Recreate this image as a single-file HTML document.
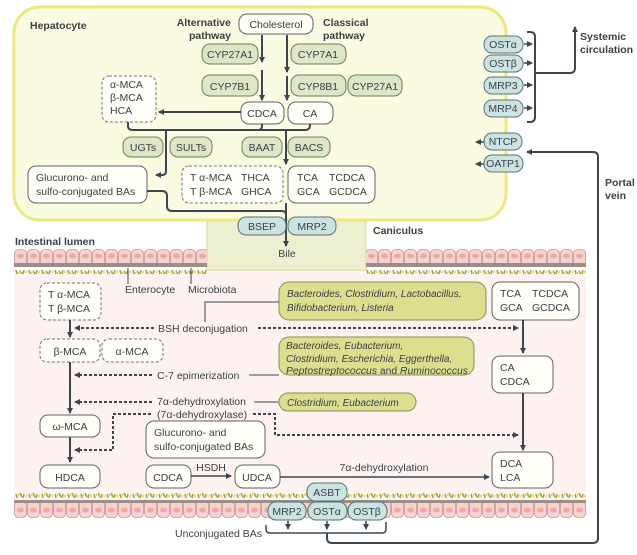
<!DOCTYPE html>
<html><head><meta charset="utf-8"><style>
html,body{margin:0;padding:0;background:#fff;}
svg{display:block;font-family:"Liberation Sans",sans-serif;}
text{fill:#3b4047;font-size:10.5px;}
.b{font-weight:bold;}
.i{font-style:italic;font-size:10px;}
.ln{stroke:#3d4650;stroke-width:2;fill:none;}
.dl{stroke:#3d4650;stroke-width:2;fill:none;stroke-dasharray:3,2;}
.en{fill:#dde6c6;stroke:#6e7d5c;stroke-width:1;}
.bac{fill:#dcdf8e;stroke:#8a8c55;stroke-width:1;}
.tr{fill:#cbe4e1;stroke:#5a7272;stroke-width:1;}
.wb{fill:#fffef7;stroke:#5e636a;stroke-width:1;}
.db{fill:#fffef7;stroke:#6e737a;stroke-width:1;stroke-dasharray:3,2;}
</style></head><body>
<svg width="637" height="555" viewBox="0 0 637 555" xmlns="http://www.w3.org/2000/svg">
<defs>
<marker id="a" markerWidth="6" markerHeight="6" refX="5" refY="3" orient="auto" markerUnits="userSpaceOnUse"><path d="M0,0 L6,3 L0,6 Z" fill="#3d4650"/></marker>
<pattern id="cell" x="14" y="249" width="13" height="28" patternUnits="userSpaceOnUse">
<rect x="0.5" y="0.5" width="12" height="17" rx="4" fill="#f7d3cf" stroke="#c9958f" stroke-width="0.8"/>
<ellipse cx="6.5" cy="7" rx="3.5" ry="2.5" fill="#f0a8a2"/>
<rect x="0" y="14" width="13" height="4" fill="#9a8f88"/>
<path d="M2,21 l1,4 M6,22 l2,3 M10,21 l-1,4" stroke="#9aa83a" stroke-width="1.5"/>
<circle cx="4.5" cy="24" r="0.9" fill="#d8c43a"/><circle cx="12" cy="23" r="0.9" fill="#d8c43a"/>
</pattern>
<pattern id="cell2" x="14" y="492" width="13" height="28" patternUnits="userSpaceOnUse">
<path d="M2,2 l1,4 M6,1 l2,4 M10,2 l-1,4" stroke="#9aa83a" stroke-width="1.5"/>
<circle cx="4.5" cy="3" r="0.9" fill="#d8c43a"/><circle cx="12" cy="4" r="0.9" fill="#d8c43a"/>
<rect x="0.5" y="8.5" width="12" height="17" rx="4" fill="#f7d3cf" stroke="#c9958f" stroke-width="0.8"/>
<rect x="0" y="8" width="13" height="3" fill="#9a8f88"/>
<ellipse cx="6.5" cy="18" rx="3.5" ry="2.5" fill="#f0a8a2"/>
</pattern>
</defs>

<rect x="14" y="270" width="572" height="230" fill="#fdf2ef"/>
<rect x="207" y="210" width="159" height="60" fill="#edf0d0" stroke="#d6dc8a" stroke-width="1"/>
<rect x="14" y="7" width="492" height="213" rx="26" fill="#fbfbe1" stroke="#ece97a" stroke-width="3"/>
<rect x="14" y="249" width="193" height="28" fill="url(#cell)"/>
<rect x="366" y="249" width="220" height="28" fill="url(#cell)"/>
<rect x="14" y="492" width="572" height="28" fill="url(#cell2)"/>

<text x="30" y="29" class="b">Hepatocyte</text>
<text x="231" y="26" class="b" text-anchor="end">Alternative</text>
<text x="231" y="39" class="b" text-anchor="end">pathway</text>
<text x="323" y="26" class="b">Classical</text>
<text x="323" y="39" class="b">pathway</text>
<text x="15" y="245" class="b">Intestinal lumen</text>
<text x="373" y="234" class="b">Caniculus</text>
<text x="580" y="40" class="b">Systemic</text>
<text x="580" y="53" class="b">circulation</text>
<text x="605" y="186" class="b">Portal</text>
<text x="605" y="199" class="b">vein</text>

<rect x="239" y="14" width="74" height="20" rx="8" class="wb"/><text x="276" y="28" text-anchor="middle">Cholesterol</text>
<rect x="202" y="44" width="56" height="20" rx="8" class="en"/><text x="230" y="58" text-anchor="middle">CYP27A1</text>
<rect x="291" y="44" width="55" height="20" rx="8" class="en"/><text x="318" y="58" text-anchor="middle">CYP7A1</text>
<rect x="202" y="75" width="56" height="21" rx="8" class="en"/><text x="230" y="90" text-anchor="middle">CYP7B1</text>
<rect x="291" y="75" width="55" height="21" rx="8" class="en"/><text x="318" y="90" text-anchor="middle">CYP8B1</text>
<rect x="348" y="75" width="54" height="21" rx="8" class="en"/><text x="375" y="90" text-anchor="middle">CYP27A1</text>
<path d="M262,35 V62" class="ln" marker-end="url(#a)"/>
<path d="M262,70 V100" class="ln" marker-end="url(#a)"/>
<path d="M287,35 V72" class="ln" marker-end="url(#a)"/>
<path d="M287,76 V100" class="ln" marker-end="url(#a)"/>
<rect x="241" y="102" width="43" height="22" rx="8" class="wb"/><text x="262" y="117" text-anchor="middle">CDCA</text>
<rect x="288" y="102" width="45" height="22" rx="8" class="wb"/><text x="310" y="117" text-anchor="middle">CA</text>
<rect x="102" y="76" width="54" height="46" rx="7" class="db"/>
<text x="110" y="88">α-MCA</text><text x="110" y="101">β-MCA</text><text x="110" y="114">HCA</text>
<path d="M241,112 H159" class="ln" marker-end="url(#a)"/>
<path d="M128,122 V126 Q128,130 133,130 H305 Q310,130 310,125 V124" class="ln"/>
<path d="M262,124 V126 Q262,130 258,130" class="ln"/>
<path d="M166,130 V171 Q166,175 162,175 H156" class="ln" marker-end="url(#a)"/>
<path d="M286,130 V164" class="ln" marker-end="url(#a)"/>
<rect x="123" y="137" width="40" height="20" rx="8" class="en"/><text x="143" y="151" text-anchor="middle">UGTs</text>
<rect x="170" y="137" width="42" height="20" rx="8" class="en"/><text x="191" y="151" text-anchor="middle">SULTs</text>
<rect x="242" y="137" width="40" height="20" rx="8" class="en"/><text x="262" y="151" text-anchor="middle">BAAT</text>
<rect x="288" y="137" width="42" height="20" rx="8" class="en"/><text x="309" y="151" text-anchor="middle">BACS</text>
<rect x="28" y="166" width="119" height="37" rx="8" class="wb"/>
<text x="36" y="181">Glucurono- and</text><text x="36" y="195">sulfo-conjugated BAs</text>
<rect x="182" y="166" width="101" height="37" rx="7" class="db"/>
<text x="190" y="181">T α-MCA</text><text x="241" y="181">THCA</text>
<text x="190" y="195">T β-MCA</text><text x="241" y="195">GHCA</text>
<rect x="288" y="166" width="87" height="37" rx="8" class="wb"/>
<text x="297" y="181">TCA</text><text x="329" y="181">TCDCA</text>
<text x="297" y="195">GCA</text><text x="329" y="195">GCDCA</text>
<path d="M147,191 H162 Q167,191 167,196 V206 Q167,211 172,211 H282 Q286,211 286,215" class="ln"/>
<path d="M286,203 V246" class="ln" marker-end="url(#a)"/>
<rect x="238" y="217" width="48" height="18" rx="8" class="tr"/><text x="262" y="230" text-anchor="middle">BSEP</text>
<rect x="288" y="217" width="48" height="18" rx="8" class="tr"/><text x="312" y="230" text-anchor="middle">MRP2</text>
<text x="287" y="257" text-anchor="middle">Bile</text>

<rect x="484" y="36" width="39" height="17" rx="8" class="tr"/><text x="503" y="48" text-anchor="middle">OSTα</text>
<rect x="484" y="55" width="39" height="17" rx="8" class="tr"/><text x="503" y="67" text-anchor="middle">OSTβ</text>
<rect x="484" y="77" width="39" height="17" rx="8" class="tr"/><text x="503" y="89" text-anchor="middle">MRP3</text>
<rect x="484" y="100" width="39" height="17" rx="8" class="tr"/><text x="503" y="112" text-anchor="middle">MRP4</text>
<g stroke="#3d4650" stroke-width="1.5" fill="none">
<path d="M524,44 H532" marker-end="url(#a)"/><path d="M524,63 H532" marker-end="url(#a)"/>
<path d="M524,85 H532" marker-end="url(#a)"/><path d="M524,108 H532" marker-end="url(#a)"/>
</g>
<path d="M527,32 H530 Q535,32 535,37 V117 Q535,122 530,122 H527" class="ln"/>
<path d="M535,73 H570 Q575,73 575,68 V27" class="ln" marker-end="url(#a)"/>
<rect x="484" y="133" width="38" height="17" rx="8" class="tr"/><text x="503" y="145" text-anchor="middle">NTCP</text>
<rect x="484" y="155" width="39" height="17" rx="8" class="tr"/><text x="503" y="167" text-anchor="middle">OATP1</text>
<path d="M484,142 H476" stroke="#3d4650" stroke-width="1.5" marker-end="url(#a)"/>
<path d="M484,164 H476" stroke="#3d4650" stroke-width="1.5" marker-end="url(#a)"/>
<path d="M327,533 V538 Q327,543 332,543 H593 Q598,543 598,538 V157 Q598,152 593,152 H527" class="ln" marker-end="url(#a)"/>

<rect x="40" y="283" width="61" height="37" rx="7" class="db"/>
<text x="48" y="298">T α-MCA</text><text x="48" y="312">T β-MCA</text>
<path d="M128,268 V284 M191,268 V284" stroke="#3d4650" stroke-width="1"/>
<text x="125" y="293">Enterocyte</text><text x="188" y="293">Microbiota</text>
<rect x="279" y="282" width="207" height="38" rx="10" class="bac"/>
<text x="287" y="297" class="i">Bacteroides, Clostridium, Lactobacillus,</text>
<text x="287" y="311" class="i">Bifidobacterium, Listeria</text>
<path d="M205,322 V302 H279" stroke="#3d4650" stroke-width="1" fill="none"/>
<rect x="492" y="282" width="87" height="38" rx="8" class="wb"/>
<text x="500" y="297">TCA</text><text x="532" y="297">TCDCA</text>
<text x="500" y="311">GCA</text><text x="532" y="311">GCDCA</text>
<path d="M154,328 H75" class="dl" marker-end="url(#a)"/>
<text x="158" y="332">BSH deconjugation</text>
<path d="M258,328 H518" class="dl" marker-end="url(#a)"/>
<path d="M70,320 V337" class="ln" marker-end="url(#a)"/>
<path d="M523,320 V353" class="ln" marker-end="url(#a)"/>
<rect x="40" y="339" width="60" height="23" rx="7" class="db"/><text x="70" y="355" text-anchor="middle">β-MCA</text>
<rect x="102" y="339" width="61" height="23" rx="7" class="db"/><text x="132" y="355" text-anchor="middle">α-MCA</text>
<rect x="279" y="337" width="195" height="38" rx="10" class="bac"/>
<text x="286" y="349" class="i">Bacteroides, Eubacterium,</text>
<text x="286" y="362" class="i">Clostridium, Escherichia, Eggerthella,</text>
<text x="286" y="374" class="i" textLength="182" lengthAdjust="spacingAndGlyphs">Peptostreptococcus <tspan font-style="normal">and</tspan> Ruminococcus</text>
<rect x="492" y="356" width="61" height="37" rx="8" class="wb"/>
<text x="500" y="371">CA</text><text x="500" y="385">CDCA</text>
<path d="M152,375 H75" class="dl" marker-end="url(#a)"/>
<text x="157" y="379">C-7 epimerization</text>
<path d="M249,375 H279" stroke="#3d4650" stroke-width="1"/>
<path d="M70,362 V413" class="ln" marker-end="url(#a)"/>
<path d="M152,402 H75" class="dl" marker-end="url(#a)"/>
<text x="157" y="405">7α-dehydroxylation</text>
<path d="M254,402 H279" stroke="#3d4650" stroke-width="1"/>
<rect x="279" y="393" width="137" height="18" rx="9" class="bac"/>
<text x="287" y="406" class="i">Clostridium, Eubacterium</text>
<text x="157" y="418">(7α-dehydroxylase)</text>
<path d="M151,414 H113 V450 H75" class="dl" marker-end="url(#a)"/>
<path d="M253,414 H275 V435 H518" class="dl" marker-end="url(#a)"/>
<path d="M523,393 V450" class="ln" marker-end="url(#a)"/>
<rect x="40" y="415" width="60" height="22" rx="8" class="wb"/><text x="70" y="430" text-anchor="middle">ω-MCA</text>
<path d="M70,437 V462" class="ln" marker-end="url(#a)"/>
<rect x="146" y="421" width="119" height="37" rx="8" class="wb"/>
<text x="154" y="436">Glucurono- and</text><text x="154" y="450">sulfo-conjugated BAs</text>
<rect x="40" y="465" width="60" height="23" rx="8" class="wb"/><text x="70" y="481" text-anchor="middle">HDCA</text>
<rect x="146" y="465" width="45" height="23" rx="8" class="wb"/><text x="168" y="481" text-anchor="middle">CDCA</text>
<path d="M191,476 H231" stroke="#3d4650" stroke-width="1.5" marker-end="url(#a)"/>
<text x="211" y="471" text-anchor="middle">HSDH</text>
<rect x="235" y="465" width="45" height="23" rx="8" class="wb"/><text x="257" y="481" text-anchor="middle">UDCA</text>
<path d="M280,477 H489" stroke="#3d4650" stroke-width="1.5" marker-end="url(#a)"/>
<text x="384" y="471" text-anchor="middle">7α-dehydroxylation</text>
<rect x="492" y="452" width="61" height="36" rx="8" class="wb"/>
<text x="500" y="467">DCA</text><text x="500" y="481">LCA</text>

<rect x="307" y="483" width="40" height="18" rx="8" class="tr"/><text x="327" y="496" text-anchor="middle">ASBT</text>
<rect x="268" y="502" width="38" height="18" rx="8" class="tr"/><text x="287" y="515" text-anchor="middle">MRP2</text>
<rect x="308" y="502" width="39" height="18" rx="8" class="tr"/><text x="327" y="515" text-anchor="middle">OSTα</text>
<rect x="348" y="502" width="39" height="18" rx="8" class="tr"/><text x="367" y="515" text-anchor="middle">OSTβ</text>
<g stroke="#3d4650" stroke-width="1.5"><path d="M288,521 V529" marker-end="url(#a)"/><path d="M327,521 V529" marker-end="url(#a)"/><path d="M366,521 V529" marker-end="url(#a)"/></g>
<path d="M266,525 V529 Q266,533 270,533 H382 Q386,533 386,529 V522" stroke="#3d4650" stroke-width="1.5" fill="none"/>
<text x="262" y="537" text-anchor="end">Unconjugated BAs</text>
</svg>
</body></html>
